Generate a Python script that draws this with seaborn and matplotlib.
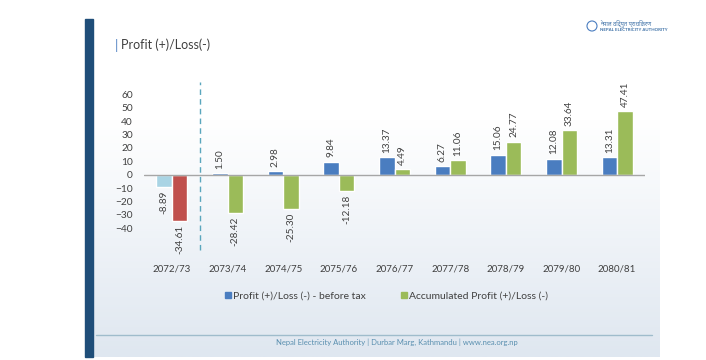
import numpy as np
import pandas as pd
import matplotlib
matplotlib.use("Agg")
import matplotlib.pyplot as plt
import seaborn as sns
from matplotlib.lines import Line2D
from matplotlib.patches import Rectangle, Circle

years = ["2072/73", "2073/74", "2074/75", "2075/76", "2076/77",
         "2077/78", "2078/79", "2079/80", "2080/81"]
profit_before_tax = [-8.89, 1.50, 2.98, 9.84, 13.37, 6.27, 15.06, 12.08, 13.31]
accumulated = [-34.61, -28.42, -25.30, -12.18, 4.49, 11.06, 24.77, 33.64, 47.41]
series_names = ["Profit (+)/Loss (-) - before tax", "Accumulated Profit (+)/Loss (-)"]
y_ticks = [-40, -30, -20, -10, 0, 10, 20, 30, 40, 50, 60]

blue = "#4a7dc0"
green = "#9bbb59"
light_blue = "#a9d4e4"
red = "#c0504d"
text_col = "#404040"

df = pd.DataFrame({
    "Year": years * 2,
    "Value": profit_before_tax + accumulated,
    "Series": [series_names[0]] * len(years) + [series_names[1]] * len(years),
})

sns.set_style("white")
plt.rcParams["font.family"] = ["Lato", "DejaVu Sans"]

W, H = 706, 360
fig = plt.figure(figsize=(W / 100, H / 100), dpi=100)
fig.patch.set_facecolor("white")

# slide background with soft gradient
bg = fig.add_axes([0, 0, 1, 1], zorder=-10)
bg.set_xlim(0, W)
bg.set_ylim(H, 0)
bg.axis("off")
grad = np.linspace(0, 1, 256).reshape(-1, 1)
cmap = matplotlib.colors.LinearSegmentedColormap.from_list(
    "g", [(0, "#ffffff"), (0.3, "#ffffff"), (1, "#dfe7f0")])
bg.imshow(grad, cmap=cmap, extent=[93, 660, 357, 19], aspect="auto")
bg.add_patch(Rectangle((85, 19), 8, 338, color="#1f4e79"))
bg.plot([96, 652], [335, 335], color="#9fbccc", lw=1)
bg.text(115, 45, "|", color="#4a7dc0", fontsize=9.5, va="center")
bg.text(121, 45, "Profit (+)/Loss(-)", color=text_col, fontsize=9, va="center")
bg.text(397, 342, "Nepal Electricity Authority | Durbar Marg, Kathmandu | www.nea.org.np",
        color="#5a8fb0", fontsize=5.5, ha="center", va="center")
bg.add_patch(Circle((592, 26), 5, fill=False, ec="#4a7dc0", lw=0.8))
bg.text(600, 30, "NEPAL ELECTRICITY AUTHORITY", color="#3a6ea5", fontsize=3.2,
        va="center", fontweight="bold")
bg.text(600, 23, "नेपाल विद्युत प्राधिकरण", color="#3a6ea5", fontsize=4,
        va="center", family=["Noto Sans Devanagari", "Noto Sans", "DejaVu Sans"])

# chart axes: zero at y=174.7, 13.37 px per 10 units
ppu = 1.337
ymin, ymax = -62, 72
top_px = 174.7 - ymax * ppu
bot_px = 174.7 - ymin * ppu
ax = fig.add_axes([144 / W, 1 - bot_px / H, (645 - 144) / W, (bot_px - top_px) / H])
ax.patch.set_alpha(0)

sns.barplot(data=df, x="Year", y="Value", hue="Series", order=years,
            hue_order=series_names, palette=[blue, green], width=0.56,
            saturation=1, ax=ax, legend=False)

ax.containers[0][0].set_facecolor(light_blue)
ax.containers[1][0].set_facecolor(red)

for cont in ax.containers:
    for bar in cont:
        v = bar.get_height()
        x = bar.get_x() + bar.get_width() / 2
        ax.annotate(f"{v:.2f}", (x, v), xytext=(0, 3 if v >= 0 else -3),
                    textcoords="offset points", rotation=90, ha="center",
                    va="bottom" if v >= 0 else "top", fontsize=7.2, color=text_col,
                    annotation_clip=False)

ax.axhline(0, color="#a6a6a6", lw=1)
ax.plot([0.5, 0.5], [-56, 69], color="#5aa6bd", lw=1, ls=(0, (4, 3)))
ax.set_xlim(-0.5, 8.5)
ax.set_ylim(ymin, ymax)
ax.set_yticks(y_ticks)
ax.tick_params(axis="both", length=0, labelsize=7, labelcolor=text_col)
ax.tick_params(axis="y", labelsize=7.3)
ax.tick_params(axis="x", pad=5)
ax.tick_params(axis="y", pad=8)
ax.set_xlabel("")
ax.set_ylabel("")
sns.despine(ax=ax, left=True, bottom=True)

handles = [Line2D([], [], marker="s", ls="none", color=blue, markersize=4.5),
           Line2D([], [], marker="s", ls="none", color=green, markersize=4.5)]
fig.legend(handles, series_names, loc="center", bbox_to_anchor=(386 / W, 1 - 296 / H),
           ncol=2, frameon=False, fontsize=7.5, handletextpad=0.1,
           columnspacing=3.2, handlelength=0.8, labelcolor=text_col)

fig.savefig("out.png", dpi=100)
